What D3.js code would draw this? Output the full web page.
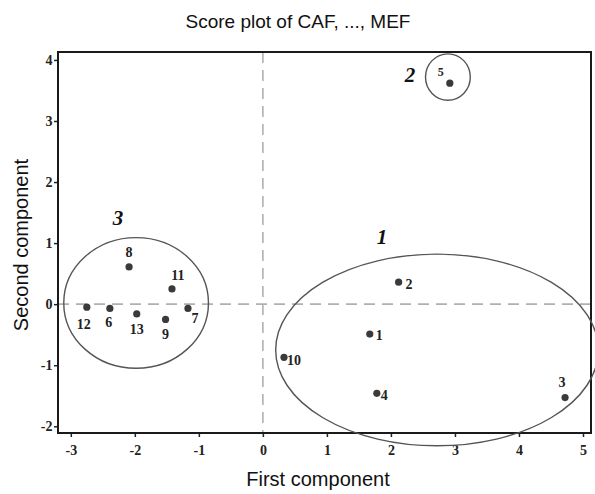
<!DOCTYPE html>
<html>
<head>
<meta charset="utf-8">
<script src="https://cdn.jsdelivr.net/npm/d3@7"></script>
<style>
  html, body { margin: 0; padding: 0; background: #fff; }
  svg { display: block; }
</style>
</head>
<body>
<svg id="chart" width="595" height="494"></svg>
<script>
// Sample scores on the first two principal components
const sampleIds = ["1", "2", "3", "4", "5", "6", "7", "8", "9", "10", "11", "12", "13"];
const firstComponent  = [1.67, 2.12, 4.72, 1.78, 2.92, -2.39, -1.17, -2.09, -1.52, 0.33, -1.42, -2.75, -1.97];
const secondComponent = [-0.49, 0.36, -1.53, -1.46, 3.62, -0.07, -0.07, 0.61, -0.25, -0.87, 0.25, -0.05, -0.16];

// Cluster outlines (centre and semi-axes in score units)
const clusterNames = ["1", "2", "3"];
const clusterCx = [2.72, 2.89, -1.98];
const clusterCy = [-0.75, 3.72, 0.02];
const clusterRx = [2.52, 0.35, 1.13];
const clusterRy = [1.57, 0.38, 1.07];

const xTicks = [-3, -2, -1, 0, 1, 2, 3, 4, 5];
const yTicks = [-2, -1, 0, 1, 2, 3, 4];

// Label placement around each marker: [dx, dy, anchor]
const labelPlacement = {
  "1": [6, 6, "start"], "2": [7, 7, "start"], "3": [-3, -11, "middle"],
  "4": [4, 7, "start"], "5": [-9, -7, "middle"], "6": [-1, 19, "middle"],
  "7": [7, 15, "middle"], "8": [0, -10, "middle"], "9": [0, 20, "middle"],
  "10": [3, 8, "start"], "11": [6, -9, "middle"], "12": [-3, 22, "middle"],
  "13": [0, 20, "middle"]
};
// Cluster name placement relative to the outline's top centre: [dx, dy]
const clusterLabelPlacement = { "1": [-55, -10], "2": [-38, 28], "3": [-18, -13] };

const svg = d3.select("#chart");
const plotLeft = 58, plotRight = 591, plotTop = 52, plotBottom = 433;

const x = d3.scaleLinear().domain([-3.2, 5.125]).range([plotLeft, plotRight]);
const y = d3.scaleLinear().domain([-2.11, 4.13]).range([plotBottom, plotTop]);

const serif = "'Liberation Serif', 'Times New Roman', serif";
const sans = "'Liberation Sans', Arial, sans-serif";

// Title and axis titles
svg.append("text").attr("x", 298).attr("y", 28).attr("text-anchor", "middle")
  .style("font-family", sans).style("font-size", "19px").attr("fill", "#111")
  .text("Score plot of CAF, ..., MEF");
svg.append("text").attr("x", 318).attr("y", 486).attr("text-anchor", "middle")
  .style("font-family", sans).style("font-size", "20px").attr("fill", "#111")
  .text("First component");
svg.append("text").attr("transform", "translate(28,245) rotate(-90)").attr("text-anchor", "middle")
  .style("font-family", sans).style("font-size", "20px").attr("fill", "#111")
  .text("Second component");

// Reference lines through the origin
const dash = "11,7";
svg.append("line").attr("x1", x(0)).attr("x2", x(0)).attr("y1", plotTop).attr("y2", plotBottom)
  .attr("stroke", "#b0b0b0").attr("stroke-width", 1.6).attr("stroke-dasharray", dash);
svg.append("line").attr("x1", plotLeft).attr("x2", plotRight).attr("y1", y(0)).attr("y2", y(0))
  .attr("stroke", "#b0b0b0").attr("stroke-width", 1.6).attr("stroke-dasharray", dash);

// Axes
const signed = d => (d < 0 ? "-" + Math.abs(d) : String(d));
const xAxis = svg.append("g").attr("transform", `translate(0,${plotBottom})`)
  .call(d3.axisBottom(x).tickValues(xTicks).tickSize(4).tickSizeOuter(0).tickFormat(signed));
const yAxis = svg.append("g").attr("transform", `translate(${plotLeft},0)`)
  .call(d3.axisLeft(y).tickValues(yTicks).tickSize(4).tickSizeOuter(0).tickFormat(signed));
[xAxis, yAxis].forEach(g => {
  g.select(".domain").remove();
  g.selectAll(".tick line").attr("stroke", "#222").attr("stroke-width", 1.5);
  g.selectAll(".tick text").style("font-family", serif).style("font-size", "14px")
    .style("font-weight", "bold").attr("fill", "#222");
});
xAxis.selectAll(".tick text").attr("dy", "1.05em");
yAxis.selectAll(".tick text").attr("dx", "0.1em");

// Plot frame
svg.append("rect").attr("x", plotLeft).attr("y", plotTop)
  .attr("width", plotRight - plotLeft).attr("height", plotBottom - plotTop)
  .attr("fill", "none").attr("stroke", "#1a1a1a").attr("stroke-width", 2);

// Cluster outlines
const clusters = clusterNames.map((n, i) => ({
  name: n, cx: clusterCx[i], cy: clusterCy[i], rx: clusterRx[i], ry: clusterRy[i]
}));
svg.selectAll("ellipse.cluster").data(clusters).join("ellipse")
  .attr("class", "cluster")
  .attr("cx", d => x(d.cx)).attr("cy", d => y(d.cy))
  .attr("rx", d => x(d.cx + d.rx) - x(d.cx)).attr("ry", d => y(d.cy) - y(d.cy + d.ry))
  .attr("fill", "none").attr("stroke", "#555").attr("stroke-width", 1.4);

svg.selectAll("text.cluster-name").data(clusters).join("text")
  .attr("class", "cluster-name")
  .attr("x", d => x(d.cx) + clusterLabelPlacement[d.name][0])
  .attr("y", d => y(d.cy + d.ry) + clusterLabelPlacement[d.name][1])
  .attr("text-anchor", "middle")
  .style("font-family", serif).style("font-size", "21px").style("font-weight", "bold").style("font-style", "italic")
  .attr("fill", "#111")
  .text(d => d.name);

// Sample markers and their labels
const samples = sampleIds.map((id, i) => ({ id, pc1: firstComponent[i], pc2: secondComponent[i] }));
svg.selectAll("circle.sample").data(samples).join("circle")
  .attr("class", "sample")
  .attr("cx", d => x(d.pc1)).attr("cy", d => y(d.pc2)).attr("r", 3.6)
  .attr("fill", "#3a3a3a");
svg.selectAll("text.sample-label").data(samples).join("text")
  .attr("class", "sample-label")
  .attr("x", d => x(d.pc1) + labelPlacement[d.id][0])
  .attr("y", d => y(d.pc2) + labelPlacement[d.id][1])
  .attr("text-anchor", d => labelPlacement[d.id][2])
  .style("font-family", serif).style("font-size", d => d.id === "5" ? "12px" : "14px").style("font-weight", "bold")
  .attr("fill", "#222")
  .text(d => d.id);
</script>
</body>
</html>
